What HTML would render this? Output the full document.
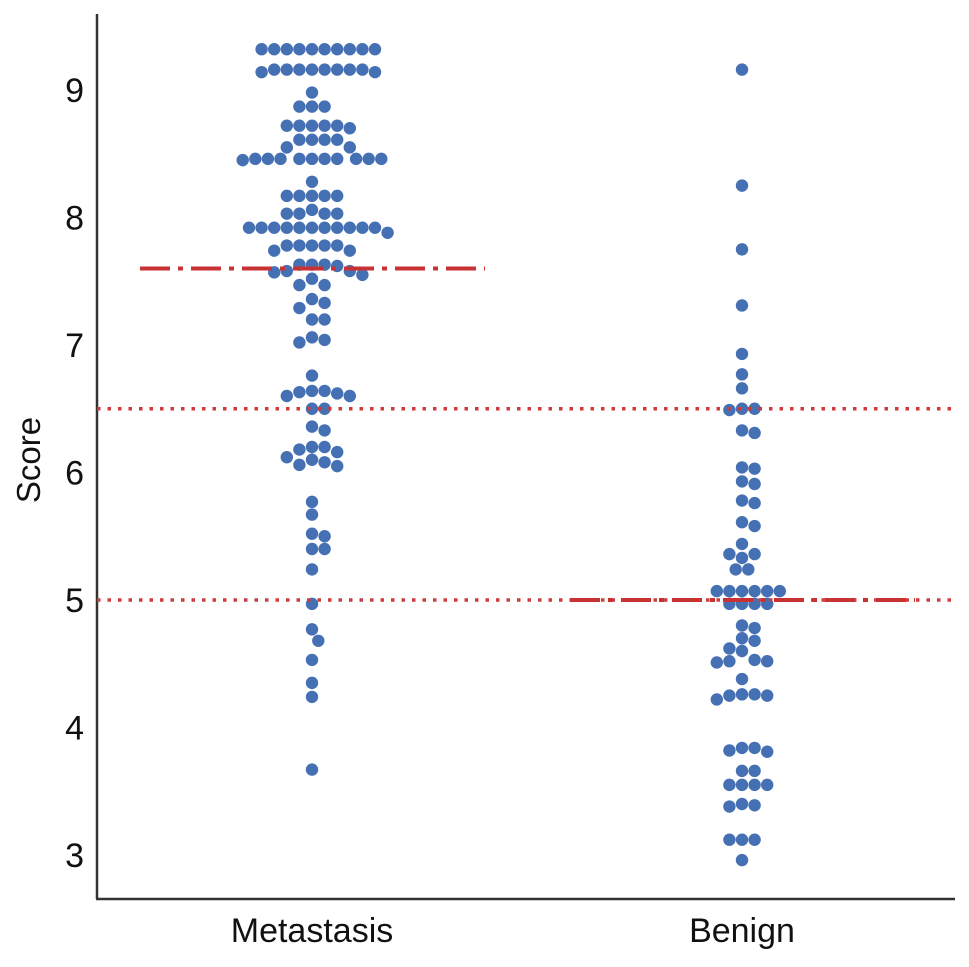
<!DOCTYPE html>
<html><head><meta charset="utf-8"><style>
body{margin:0;background:#fff}
svg text{font-family:"Liberation Sans",Arial,sans-serif;fill:#111}
</style></head><body>
<svg id="chart" width="969" height="962">
<g id="grid"></g>
<g id="dots"></g>
<g id="lines"></g>
</svg>
<script>
const categories = ["Metastasis","Benign"];
const yTicks = [3,4,5,6,7,8,9];
const metastasis = [
9.32,9.32,9.32,9.32,9.32,9.32,9.32,9.32,9.32,9.32,
9.16,9.16,9.16,9.16,9.16,9.16,9.16,9.16,9.14,9.14,
8.98,8.87,8.87,8.87,8.72,8.72,8.72,8.72,8.72,8.70,
8.61,8.61,8.61,8.61,8.55,8.55,
8.46,8.46,8.46,8.46,8.46,8.46,8.46,8.46,8.46,8.46,8.45,
8.28,8.17,8.17,8.17,8.17,8.17,8.06,8.03,8.03,8.03,8.03,
7.92,7.92,7.92,7.92,7.92,7.92,7.92,7.92,7.92,7.92,7.92,7.88,
7.78,7.78,7.78,7.78,7.78,7.74,7.74,
7.63,7.63,7.63,7.62,7.58,7.58,7.57,7.55,7.52,
7.47,7.47,7.36,7.33,7.29,7.2,7.2,7.06,7.04,7.02,
6.76,6.64,6.64,6.63,6.62,6.6,6.6,6.5,6.5,6.36,6.33,
6.2,6.2,6.18,6.16,6.12,6.1,6.08,6.06,6.05,
5.77,5.67,5.52,5.5,5.4,5.4,5.24,4.97,4.77,4.68,4.53,4.35,4.24,3.67];
const benign = [
9.16,8.25,7.75,7.31,6.93,6.77,6.66,6.5,6.5,6.49,6.33,6.31,6.04,6.03,5.93,5.91,5.78,5.76,5.61,5.58,
5.44,5.36,5.36,5.33,5.24,5.24,5.07,5.07,5.07,5.07,5.07,5.07,4.97,4.97,4.97,4.97,
4.8,4.78,4.7,4.68,4.62,4.6,4.53,4.52,4.52,4.51,4.38,4.26,4.26,4.25,4.25,4.22,
3.84,3.84,3.82,3.81,3.66,3.66,3.55,3.55,3.55,3.55,3.4,3.39,3.38,3.12,3.12,3.12,2.96];
const medians = [7.6,5.0];
const thresholds = [6.5,5.0];

const NS="http://www.w3.org/2000/svg";
const L=97,R=955,T=14,B=899;
const y=v=>855-(v-3)*127.5;
const x=i=>[312,742][i];
function mk(t,a,p){const e=document.createElementNS(NS,t);for(const k in a)e.setAttribute(k,a[k]);p.appendChild(e);return e;}
const svg=document.getElementById('chart'),g=document.getElementById('grid'),dg=document.getElementById('dots'),lg=document.getElementById('lines');
let ax=mk('line',{x1:L,y1:T,x2:L,y2:B,stroke:'#333','stroke-width':2.5},g);

ax=mk('line',{x1:L-1,y1:B,x2:R,y2:B,stroke:'#333','stroke-width':2.5},g);

yTicks.forEach(t=>{const e=mk('text',{x:84,y:y(t)+12,'font-size':34,'text-anchor':'end'},g);e.textContent=t;
});
let yt=mk('text',{x:0,y:0,'font-size':33,'text-anchor':'middle',transform:'translate(40,460) rotate(-90)'},g);yt.textContent='Score';

categories.forEach((c,i)=>{const e=mk('text',{x:x(i),y:942,'font-size':34,'text-anchor':'middle'},g);e.textContent=c;
});
const r=6.2,d=12.6;
[metastasis,benign].forEach((vals,ci)=>{
  const placed=[];
  [...vals].sort((a,b)=>b-a).forEach(v=>{
    const py=y(v);let off=0;
    for(let k=0;k<60;k++){const o=k===0?0:(k%2?1:-1)*Math.ceil(k/2)*d/2;
      if(placed.every(p=>Math.hypot(p[0]-o,p[1]-py)>=d-0.3)){off=o;break;}}
    placed.push([off,py]);
    const c=mk('circle',{cx:x(ci)+off,cy:py,r:r,fill:'#4570b3'},dg);
    
    
  });
});
thresholds.forEach(t=>{const e=mk('line',{x1:L,x2:R,y1:y(t),y2:y(t),stroke:'#d03a3a','stroke-width':3.5,'stroke-dasharray':'3.5 7'},lg);
});
medians.forEach((m,i)=>{const e=mk('line',{x1:x(i)-172,x2:x(i)+173,y1:y(m),y2:y(m),stroke:'#c83232','stroke-width':4,'stroke-dasharray':'30 8 5 8'},lg);
});
</script>
</body></html>
